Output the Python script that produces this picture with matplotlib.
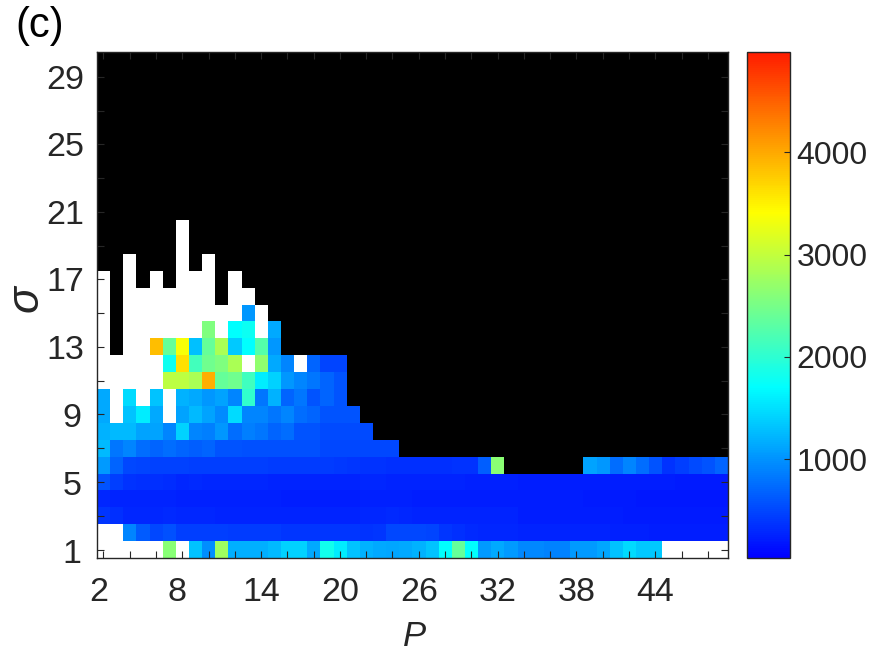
import numpy as np
import matplotlib
matplotlib.use("Agg")
import matplotlib.pyplot as plt
from matplotlib.colors import LinearSegmentedColormap
from matplotlib.transforms import ScaledTranslation

plt.rcParams['font.family'] = ['Liberation Sans', 'DejaVu Sans']
W = np.nan   # white cells
K = 1e6      # black cells

P_values = list(range(2, 50))
sigma_values = list(range(1, 31))

s1 = [W,W,W,W,W,2610,W,1311,971,2765,1180,1180,1180,1252,1415,1415,1141,1810,1585,1311,
      1200,1141,1120,1141,1206,1311,1696,2382,1696,1040,1141,1040,920,920,900,900,1040,1040,1120,1311,
      1474,1363,1363,W,W,W,W,W]
s2 = [W,W,918,630,500,553,448,448,440,440,425,425,425,425,396,396,396,396,396,396,
      370,396,500,500,500,480,396,340,310,300,290,290,280,280,270,270,265,265,265,250,
      250,250,240,240,240,240,240,240]
s3 = [396,340,300,300,300,310,291,291,291,280,280,280,280,280,280,270,270,270,270,270,
      300,300,310,300,280,270,270,280,280,270,270,265,240,240,240,240,240,240,240,240,
      213,213,213,213,213,213,213,213]
s4 = [291,280,270,270,265,265,260,260,260,260,260,255,250,250,240,240,240,240,240,240,
      260,250,245,245,240,240,240,235,235,230,230,230,225,225,225,225,225,220,220,210,
      205,200,190,190,190,190,190,190]
s5 = [585,448,363,343,343,330,300,315,300,290,290,290,290,280,280,280,280,270,270,265,
      285,285,270,270,270,270,265,265,260,260,260,260,240,240,240,240,240,240,235,235,
      235,225,225,225,215,215,205,205]
s6 = [1040,696,500,480,470,470,460,450,450,450,450,448,440,430,425,425,425,420,400,396,
      370,370,350,350,340,340,340,370,363,660,2637,K,K,K,K,K,K,1101,1030,762,
      918,762,585,363,448,527,585,696]
s7 = [1252,807,918,762,696,762,696,660,696,585,585,560,560,553,553,553,553,500,500,500,
      500,500,500]
s8 = [1206,1252,1252,1101,1101,918,1415,918,866,1030,762,866,807,696,762,585,585,527,527,527,527]
s9 = [1141,W,1311,1585,1141,W,1101,1252,1101,940,1474,918,918,807,918,762,696,585,585,585]
s10 = [1141,W,1474,W,1311,W,1206,1141,1030,1101,918,2039,807,1206,696,807,585,696,585]
s11 = [W,W,W,W,W,2953,2953,2839,3960,2382,2449,2126,1585,1415,1030,918,807,696,585]
s12 = [W,W,W,W,W,1800,3626,2153,2449,2556,2839,W,2663,1141,918,W,696,480,480]
s13 = [W,K,W,W,3850,2382,3363,1290,2382,2839,1363,1696,2267,1030]
s14 = [W,K,W,W,W,W,W,W,2556,W,1696,1780,W,1141]
s15 = [W,K,W,W,W,W,W,W,W,W,W,1030,W]
s16 = [W,K,W,W,W,W,W,W,W,K,W,W]
s17 = [W,K,W,K,W,K,W,W,W,K,W]
s18 = [K,K,W,K,K,K,W,K,W]
s19 = [K,K,K,K,K,K,W]
s20 = [K,K,K,K,K,K,W]

rows = [s1,s2,s3,s4,s5,s6,s7,s8,s9,s10,s11,s12,s13,s14,s15,s16,s17,s18,s19,s20]
grid = np.full((len(sigma_values), len(P_values)), K, dtype=float)
for r, row in enumerate(rows):
    grid[r, :len(row)] = row

x_ticks = list(range(2, 50, 2))
x_labels = ['2','','','8','','','14','','','20','','','26','','','32','','','38','','','44','','']
y_ticks = list(range(1, 31, 2))
y_labels = ['1','','5','','9','','13','','17','','21','','25','','29']
cbar_ticks = [1000, 2000, 3000, 4000]
vmin, vmax = 30, 4980

cmap = LinearSegmentedColormap.from_list('c', [(0, (0, 0, 1)), (0.337, (0, 1, 1)),
                                               (0.683, (1, 1, 0)), (1, (1, 0.11, 0))], N=256)
cmap.set_bad('white')
cmap.set_over('black')

INK = '#262626'
FW, FH = 875, 656
fig = plt.figure(figsize=(FW/100, FH/100), dpi=100)
ax = fig.add_axes([96.8/FW, 1-558/FH, (727.6-96.8)/FW, (558-51.5)/FH])
im = ax.imshow(np.ma.masked_invalid(grid), origin='lower', cmap=cmap, vmin=vmin, vmax=vmax,
               extent=[1.5, 49.5, 0.5, 30.5], aspect='auto', interpolation='nearest')
ax.set_xlim(1.5, 49.5)
ax.set_ylim(0.5, 30.5)
ax.set_xticks(x_ticks, x_labels)
ax.set_yticks(y_ticks, y_labels)
ax.tick_params(axis='both', direction='in', top=True, right=True, length=4.8, width=0.8,
               color=INK, labelcolor=INK, labelsize=24.5)
ax.tick_params(axis='x', pad=14)
ax.tick_params(axis='y', pad=9)
for s in ax.spines.values():
    s.set_color(INK)
    s.set_linewidth(1.0)
xshift = ScaledTranslation(-5/100, 0, fig.dpi_scale_trans)
for lab in ax.get_xticklabels():
    if len(lab.get_text()) == 1:
        lab.set_transform(lab.get_transform() + xshift)
yshift = ScaledTranslation(-3/100, -1/100, fig.dpi_scale_trans)
for lab in ax.get_yticklabels():
    if len(lab.get_text()) == 1:
        lab.set_transform(lab.get_transform() + yshift)

cax = fig.add_axes([747.3/FW, 1-558.3/FH, (789.7-747.3)/FW, (558.3-52)/FH])
cb = fig.colorbar(im, cax=cax, ticks=cbar_ticks)
cb.ax.tick_params(direction='in', length=4, width=0.8, color=INK, labelcolor=INK,
                  labelsize=23, pad=5)
cb.outline.set_edgecolor(INK)
cb.outline.set_linewidth(1.0)

fig.text(414/FW, 1-637/FH, 'P', style='italic', fontsize=25, color=INK, ha='center', va='center')
fig.text(26/FW, 1-299/FH, 'σ', style='italic', fontsize=32, color=INK, ha='center', va='center',
         rotation=90)
fig.text(15/FW, 1-26/FH, '(c)', fontsize=30, color='black', ha='left', va='center')

fig.savefig('out.png', dpi=100)
